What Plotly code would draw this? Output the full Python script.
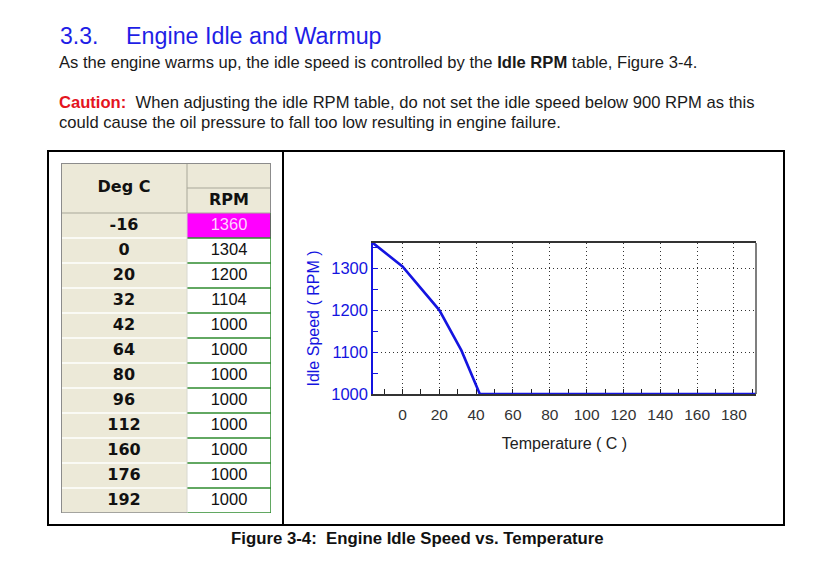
import plotly.graph_objects as go

# ---- data ----
deg_c = [-16, 0, 20, 32, 42, 64, 80, 96, 112, 160, 176, 192]
rpm = [1360, 1304, 1200, 1104, 1000, 1000, 1000, 1000, 1000, 1000, 1000, 1000]
table_headers = ["Deg C", "RPM"]
highlight_row = 0
x_range = [-16, 192]
y_range = [1000, 1360]

W, H = 823, 561
OX, OY = 8, 8  # page body margin offset


def px(x):
    return (x - OX) / W


def py(y):
    return 1 - (y - OY) / H


BEIGE = "#ECE9D8"
HGRAY = "#A8A799"
OGRAY = "#8C8C8C"
GREEN = "#2E8B2E"
MAGENTA = "#FF00FF"
BLUE = "#1414E0"
DARK = "#222222"

n = len(deg_c)
col_w = [126, 84]
col_edges = [0, col_w[0], col_w[0] + col_w[1]]
col_mid = [col_w[0] / 2, col_w[0] + col_w[1] / 2]
n_head = 2
row_edges = list(range(n + n_head + 1))

fig = go.Figure()

# ---- table cells (heatmap on its own axes) ----
z = [[0, 0] for _ in range(n_head)]
for i in range(n):
    z.append([0, 2 if i == highlight_row else 1])
fig.add_trace(go.Heatmap(
    x=col_edges, y=row_edges, z=z, zmin=0, zmax=2,
    colorscale=[[0, BEIGE], [0.33, BEIGE], [0.33, "white"], [0.67, "white"], [0.67, MAGENTA], [1, MAGENTA]],
    showscale=False, hoverinfo="skip", xaxis="x2", yaxis="y2",
))
# header texts
fig.add_trace(go.Scatter(
    x=col_mid, y=[n_head / 2, n_head - 0.5], mode="text",
    text=[f"<b>{h}</b>" for h in table_headers],
    textfont=dict(family="DejaVu Sans", size=16, color="#111111"),
    textposition="middle center", hoverinfo="skip", xaxis="x2", yaxis="y2", showlegend=False,
))
# column 0 (Deg C)
fig.add_trace(go.Scatter(
    x=[col_mid[0]] * n, y=[n_head + i + 0.5 for i in range(n)], mode="text",
    text=[f"<b>{d}</b>" for d in deg_c],
    textfont=dict(family="DejaVu Sans", size=16, color="#111111"),
    textposition="middle center", hoverinfo="skip", xaxis="x2", yaxis="y2", showlegend=False,
))
# column 1 (RPM)
fig.add_trace(go.Scatter(
    x=[col_mid[1]] * n, y=[n_head + i + 0.5 for i in range(n)], mode="text",
    text=[str(r) for r in rpm],
    textfont=dict(family="Liberation Sans", size=16.5,
                  color=["#FFD2FF" if i == highlight_row else "#111111" for i in range(n)]),
    textposition="middle center", hoverinfo="skip", xaxis="x2", yaxis="y2", showlegend=False,
))

# ---- chart ----
fig.add_trace(go.Scatter(
    x=deg_c, y=rpm, mode="lines",
    line=dict(color=BLUE, width=2.6),
    showlegend=False, cliponaxis=False, hoverinfo="x+y",
))

grid_dash = "1px,3px"
fig.update_layout(
    xaxis=dict(
        domain=[px(373), px(756)],
        range=x_range,
        tickmode="linear", tick0=0, dtick=20,
        ticks="inside", ticklen=5, tickwidth=1, tickcolor=DARK,
        showline=True, linecolor="#333333", linewidth=1.5, mirror=True,
        showgrid=True, gridcolor="#333333", gridwidth=1, griddash=grid_dash,
        zeroline=False, layer="below traces",
        minor=dict(tick0=0, dtick=10, ticks="inside", ticklen=5, tickcolor=DARK, showgrid=False),
        tickfont=dict(family="Liberation Sans", size=15.5, color="#333333"),
        title=dict(text="Temperature ( C )", font=dict(family="Liberation Sans", size=16, color=DARK), standoff=15),
        ticklabelstandoff=6,
    ),
    yaxis=dict(
        domain=[py(394), py(243)],
        range=y_range,
        tickmode="linear", tick0=1000, dtick=100,
        ticks="inside", ticklen=5, tickwidth=1, tickcolor=BLUE,
        showline=True, linecolor=BLUE, linewidth=1.5,
        showgrid=True, gridcolor="#333333", gridwidth=1, griddash=grid_dash,
        zeroline=False, layer="below traces",
        minor=dict(tick0=1000, dtick=50, ticks="inside", ticklen=5, tickcolor=BLUE, showgrid=False),
        tickfont=dict(family="Liberation Sans", size=16.5, color=BLUE),
        title=dict(text="Idle Speed ( RPM )", font=dict(family="Liberation Sans", size=16, color=BLUE), standoff=8),
    ),
    xaxis2=dict(domain=[px(61), px(271)], range=[0, col_edges[-1]], visible=False, fixedrange=True),
    yaxis2=dict(domain=[py(513), py(163)], range=[row_edges[-1], 0], visible=False, fixedrange=True),
)

# ---- table lines ----
tl = []


def tline(x0, x1, y0, y1, color, width=1):
    tl.append(dict(type="line", xref="x2", yref="y2", x0=x0, x1=x1, y0=y0, y1=y1,
                   line=dict(color=color, width=width)))


# header lines
tline(col_edges[1], col_edges[2], 1, 1, HGRAY)
tline(col_edges[0], col_edges[2], n_head, n_head, HGRAY)
tline(col_edges[1], col_edges[1], 0, n_head, HGRAY)
# data rows
for r in range(n_head + 1, row_edges[-1]):
    tline(col_edges[0], col_edges[1], r, r, "white", 1.5)
for r in range(n_head + 1, row_edges[-1] + 1):
    tline(col_edges[1], col_edges[2], r, r, GREEN, 1.5)
tline(col_edges[1], col_edges[1], n_head, row_edges[-1], "#D8D8D0", 1)
tline(col_edges[2], col_edges[2], n_head, row_edges[-1], GREEN, 1.5)
# outer 3D outline
tline(col_edges[0], col_edges[0], 0, row_edges[-1], OGRAY, 2)
tline(col_edges[0], col_edges[2], 0, 0, OGRAY, 2)
tline(col_edges[2], col_edges[2], 0, n_head, OGRAY, 2)
tline(col_edges[0], col_edges[1], row_edges[-1], row_edges[-1], OGRAY, 1.5)

shapes = [
    # figure frame
    dict(type="rect", xref="paper", yref="paper", x0=px(48), x1=px(784), y0=py(525), y1=py(151),
         line=dict(color="black", width=2)),
    dict(type="line", xref="paper", yref="paper", x0=px(283), x1=px(283), y0=py(525), y1=py(151),
         line=dict(color="black", width=2)),
    # right border of plot area
    dict(type="line", xref="x domain", yref="y domain", x0=1, x1=1, y0=0, y1=1,
         line=dict(color="#555555", width=1.5)),
] + tl

body_font = dict(family="Liberation Sans", size=16.6, color="#1A1A1A")
annotations = [
    dict(text="3.3.", x=px(58), y=py(36), xanchor="left", yanchor="middle",
         font=dict(family="Liberation Sans", size=23, color="#1E1EE6")),
    dict(text="Engine Idle and Warmup", x=px(124), y=py(36), xanchor="left", yanchor="middle",
         font=dict(family="Liberation Sans", size=23.3, color="#1E1EE6")),
    dict(text="As the engine warms up, the idle speed is controlled by the <b>Idle RPM</b> table, Figure 3-4.",
         x=px(57), y=py(63), xanchor="left", yanchor="middle", font=body_font),
    dict(text="<b><span style='color:#E4141E'>Caution:</span></b>&nbsp; When adjusting the idle RPM table, do not set the idle speed below 900 RPM as this",
         x=px(57), y=py(103), xanchor="left", yanchor="middle", font=body_font),
    dict(text="could cause the oil pressure to fall too low resulting in engine failure.",
         x=px(57), y=py(122), xanchor="left", yanchor="middle", font=body_font),
    dict(text="<b>Figure 3-4:&nbsp; Engine Idle Speed vs. Temperature</b>", x=px(417), y=py(538),
         xanchor="center", yanchor="middle", font=dict(family="Liberation Sans", size=16.8, color="#111111")),
]
for a in annotations:
    a.update(xref="paper", yref="paper", showarrow=False)

fig.update_layout(
    width=W, height=H,
    margin=dict(l=0, r=0, t=0, b=0, autoexpand=False),
    paper_bgcolor="white", plot_bgcolor="white",
    showlegend=False,
    shapes=shapes,
    annotations=annotations,
)

fig.write_html("out.html")
